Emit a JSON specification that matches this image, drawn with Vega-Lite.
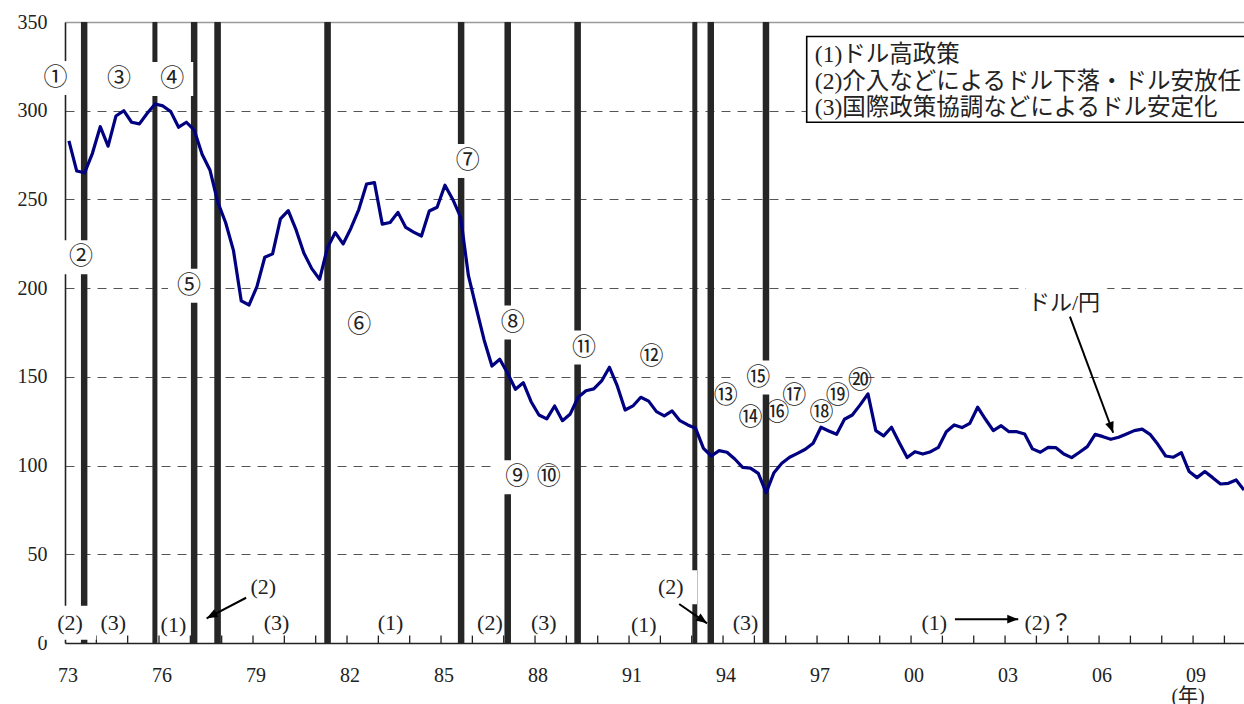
{
  "$schema": "https://vega.github.io/schema/vega-lite/v6.json",
  "width": 1179,
  "height": 621,
  "autosize": {"type": "none"},
  "padding": {"left": 65, "top": 22, "right": 0, "bottom": 61},
  "background": "white",
  "config": {"view": {"stroke": null}},
  "datasets": {
    "series": [
      {"t":1973.125,"v":283},{"t":1973.375,"v":266},{"t":1973.625,"v":265},{"t":1973.875,"v":276},
      {"t":1974.125,"v":291},{"t":1974.375,"v":280},{"t":1974.625,"v":297},{"t":1974.875,"v":300},
      {"t":1975.125,"v":293.5},{"t":1975.375,"v":292.6},{"t":1975.625,"v":298.6},{"t":1975.875,"v":303.8},
      {"t":1976.125,"v":302.7},{"t":1976.375,"v":299.5},{"t":1976.625,"v":290.7},{"t":1976.875,"v":293.5},
      {"t":1977.125,"v":289},{"t":1977.375,"v":275.5},{"t":1977.625,"v":266.6},{"t":1977.875,"v":248.5},
      {"t":1978.125,"v":237},{"t":1978.375,"v":221.3},{"t":1978.625,"v":192.8},{"t":1978.875,"v":190.5},
      {"t":1979.125,"v":200.9},{"t":1979.375,"v":217.4},{"t":1979.625,"v":219.3},{"t":1979.875,"v":239},
      {"t":1980.125,"v":243.7},{"t":1980.375,"v":232.8},{"t":1980.625,"v":219.7},{"t":1980.875,"v":211},
      {"t":1981.125,"v":205},{"t":1981.375,"v":222.8},{"t":1981.625,"v":231.3},{"t":1981.875,"v":224.9},
      {"t":1982.125,"v":233.8},{"t":1982.375,"v":244.3},{"t":1982.625,"v":258.7},{"t":1982.875,"v":259.5},
      {"t":1983.125,"v":236.1},{"t":1983.375,"v":237},{"t":1983.625,"v":242.7},{"t":1983.875,"v":234.2},
      {"t":1984.125,"v":231.6},{"t":1984.375,"v":229.4},{"t":1984.625,"v":243.5},{"t":1984.875,"v":245.6},
      {"t":1985.125,"v":258},{"t":1985.375,"v":250},{"t":1985.625,"v":240},{"t":1985.875,"v":207},
      {"t":1986.125,"v":188.7},{"t":1986.375,"v":170.8},{"t":1986.625,"v":156.1},{"t":1986.875,"v":159.9},
      {"t":1987.125,"v":152},{"t":1987.375,"v":143},{"t":1987.625,"v":146.7},{"t":1987.875,"v":136},
      {"t":1988.125,"v":128.5},{"t":1988.375,"v":126.3},{"t":1988.625,"v":133.6},{"t":1988.875,"v":125.3},
      {"t":1989.125,"v":129.1},{"t":1989.375,"v":138.5},{"t":1989.625,"v":142.2},{"t":1989.875,"v":143.2},
      {"t":1990.125,"v":147.7},{"t":1990.375,"v":155.4},{"t":1990.625,"v":144.9},{"t":1990.875,"v":131.3},
      {"t":1991.125,"v":133.6},{"t":1991.375,"v":138.5},{"t":1991.625,"v":136.3},{"t":1991.875,"v":130.4},
      {"t":1992.125,"v":128},{"t":1992.375,"v":130.8},{"t":1992.625,"v":125.3},{"t":1992.875,"v":122.9},
      {"t":1993.125,"v":121},{"t":1993.375,"v":109.7},{"t":1993.625,"v":105.4},{"t":1993.875,"v":108.4},
      {"t":1994.125,"v":107.5},{"t":1994.375,"v":103.7},{"t":1994.625,"v":99},{"t":1994.875,"v":98.6},
      {"t":1995.125,"v":95.6},{"t":1995.375,"v":84.7},{"t":1995.625,"v":96},{"t":1995.875,"v":101.3},
      {"t":1996.125,"v":104.7},{"t":1996.375,"v":106.9},{"t":1996.625,"v":109.2},{"t":1996.875,"v":112.6},
      {"t":1997.125,"v":121.6},{"t":1997.375,"v":119.5},{"t":1997.625,"v":117.6},{"t":1997.875,"v":126.1},
      {"t":1998.125,"v":128.5},{"t":1998.375,"v":134.2},{"t":1998.625,"v":140.4},{"t":1998.875,"v":119.7},
      {"t":1999.125,"v":116.7},{"t":1999.375,"v":121.6},{"t":1999.625,"v":112.9},{"t":1999.875,"v":104.5},
      {"t":2000.125,"v":107.8},{"t":2000.375,"v":106.5},{"t":2000.625,"v":107.8},{"t":2000.875,"v":110.3},
      {"t":2001.125,"v":119.1},{"t":2001.375,"v":122.9},{"t":2001.625,"v":121.4},{"t":2001.875,"v":123.8},
      {"t":2002.125,"v":132.9},{"t":2002.375,"v":126.1},{"t":2002.625,"v":119.7},{"t":2002.875,"v":122.5},
      {"t":2003.125,"v":119.1},{"t":2003.375,"v":119.1},{"t":2003.625,"v":117.8},{"t":2003.875,"v":109.4},
      {"t":2004.125,"v":107.5},{"t":2004.375,"v":110.3},{"t":2004.625,"v":110.1},{"t":2004.875,"v":106.5},
      {"t":2005.125,"v":104.5},{"t":2005.375,"v":107.5},{"t":2005.625,"v":110.7},{"t":2005.875,"v":117.6},
      {"t":2006.125,"v":116.3},{"t":2006.375,"v":114.8},{"t":2006.625,"v":116},{"t":2006.875,"v":117.8},
      {"t":2007.125,"v":119.7},{"t":2007.375,"v":120.5},{"t":2007.625,"v":117.6},{"t":2007.875,"v":112},
      {"t":2008.125,"v":105.4},{"t":2008.375,"v":104.7},{"t":2008.625,"v":107.3},{"t":2008.875,"v":96.6},
      {"t":2009.125,"v":93.2},{"t":2009.375,"v":96.6},{"t":2009.625,"v":93.2},{"t":2009.875,"v":89.6},
      {"t":2010.125,"v":90},{"t":2010.375,"v":91.9},{"t":2010.625,"v":86.2}
    ],
    "years": [
      {"t":1974},{"t":1975},{"t":1976},{"t":1977},{"t":1978},{"t":1979},{"t":1980},{"t":1981},{"t":1982},
      {"t":1983},{"t":1984},{"t":1985},{"t":1986},{"t":1987},{"t":1988},{"t":1989},{"t":1990},{"t":1991},
      {"t":1992},{"t":1993},{"t":1994},{"t":1995},{"t":1996},{"t":1997},{"t":1998},{"t":1999},{"t":2000},
      {"t":2001},{"t":2002},{"t":2003},{"t":2004},{"t":2005},{"t":2006},{"t":2007},{"t":2008},{"t":2009},
      {"t":2010}
    ],
    "yearLabels": [
      {"t":1973,"label":"73"},{"t":1976,"label":"76"},{"t":1979,"label":"79"},{"t":1982,"label":"82"},
      {"t":1985,"label":"85"},{"t":1988,"label":"88"},{"t":1991,"label":"91"},{"t":1994,"label":"94"},
      {"t":1997,"label":"97"},{"t":2000,"label":"00"},{"t":2003,"label":"03"},{"t":2006,"label":"06"},
      {"t":2009,"label":"09"}
    ],
    "bars": [
      {"t":1973.61,"kind":"thick"},{"t":1975.87,"kind":"thin"},{"t":1977.12,"kind":"thick"},
      {"t":1977.87,"kind":"thick"},{"t":1981.38,"kind":"thick"},{"t":1985.64,"kind":"thick"},
      {"t":1987.13,"kind":"thick"},{"t":1989.36,"kind":"thick"},{"t":1993.10,"kind":"thin"},
      {"t":1993.61,"kind":"thick"},{"t":1995.37,"kind":"thick"}
    ],
    "circledBoxed": [
      {"label":"①","t":1972.70,"v":318.5},{"label":"②","t":1973.51,"v":217.4},
      {"label":"④","t":1976.42,"v":317.9},{"label":"⑤","t":1976.96,"v":201.4},
      {"label":"⑦","t":1985.85,"v":271.7},{"label":"⑧","t":1987.29,"v":180.6},
      {"label":"⑨","t":1987.43,"v":93.4},{"label":"⑪","t":1989.56,"v":166.5},
      {"label":"⑮","t":1995.12,"v":149.6}
    ],
    "circled": [
      {"label":"③","t":1974.72,"v":317.9},{"label":"⑥","t":1982.39,"v":179.3},
      {"label":"⑩","t":1988.44,"v":93.4},{"label":"⑫","t":1991.72,"v":161},
      {"label":"⑬","t":1994.09,"v":139.4},{"label":"⑭","t":1994.88,"v":127},
      {"label":"⑯","t":1995.73,"v":129.8},{"label":"⑰","t":1996.27,"v":139.4},
      {"label":"⑱","t":1997.14,"v":129.8},{"label":"⑲","t":1997.66,"v":139.4},
      {"label":"⑳","t":1998.37,"v":147.9}
    ],
    "parenBoxed": [
      {"label":"(2)","t":1973.16,"v":11.4},{"label":"(2)","t":1992.33,"v":31.4}
    ],
    "paren": [
      {"label":"(3)","t":1974.54,"v":11.4},{"label":"(1)","t":1976.46,"v":10.1},
      {"label":"(2)","t":1979.33,"v":31.4},{"label":"(3)","t":1979.75,"v":11.4},
      {"label":"(1)","t":1983.39,"v":11.4},{"label":"(2)","t":1986.56,"v":11.4},
      {"label":"(3)","t":1988.28,"v":11.4},{"label":"(1)","t":1991.47,"v":10.1},
      {"label":"(3)","t":1994.72,"v":11.4},{"label":"(1)","t":2000.74,"v":11.4},
      {"label":"(2)？","t":2004.38,"v":11.4}
    ],
    "arrows": [
      {"id":"a1","t1":1978.78,"v1":25.5,"t2":1977.52,"v2":13.9},
      {"id":"a2","t1":1992.60,"v1":22.0,"t2":1993.49,"v2":11.1},
      {"id":"a3","t1":2005.07,"v1":183.9,"t2":2006.45,"v2":118.5},
      {"id":"a4","t1":2001.40,"v1":13.4,"t2":2003.42,"v2":13.4}
    ],
    "legendBox": [{"t1":1996.67,"t2":2011,"v1":341.8,"v2":293.5}],
    "legendText": [
      {"label":"(1)ドル高政策","t":1996.93,"v":331.5},
      {"label":"(2)介入などによるドル下落・ドル安放任","t":1996.93,"v":316.2},
      {"label":"(3)国際政策協調などによるドル安定化","t":1996.93,"v":301.3}
    ],
    "notes": [{"label":"ドル/円","t":2004.88,"v":191.7}],
    "unit": [{"label":"(年)","t":2008.84,"v":-30.3}]
  },
  "layer": [
    {
      "data": {"name": "bars"},
      "mark": {"type": "rule", "color": "#6a6a6a"},
      "encoding": {
        "x": {"field": "t", "type": "quantitative", "title": null,
          "scale": {"domain": [1973, 2010.625], "nice": false, "zero": false},
          "axis": {"title": null, "zindex": 0, "grid": false, "labels": false, "ticks": false,
            "domainColor": "#222222", "domainWidth": 1.6}},
        "size": {"field": "kind", "type": "ordinal", "scale": {"domain": ["thick", "thin"], "range": [6.3, 4.7]}, "legend": null}
      }
    },
    {
      "data": {"name": "series"},
      "mark": {"type": "line", "opacity": 0},
      "encoding": {
        "x": {"field": "t", "type": "quantitative", "title": null, "scale": {"domain": [1973, 2010.625], "nice": false, "zero": false}},
        "y": {"field": "v", "type": "quantitative", "title": null,
          "scale": {"domain": [0, 350], "nice": false, "zero": false},
          "axis": {"title": null, "zindex": 0,
            "values": [0,50,100,150,200,250,300,350],
            "grid": true,
            "gridColor": {"condition": {"test": "datum.value == 350", "value": "#9a9a9a"}, "value": "#555555"},
            "gridDash": {"condition": {"test": "datum.value == 350", "value": []}, "value": [9, 7]},
            "gridWidth": {"condition": {"test": "datum.value == 350", "value": 1.6}, "value": 1},
            "gridOpacity": {"condition": {"test": "datum.value == 0", "value": 0}, "value": 1},
            "domainColor": "#222222", "domainWidth": 1.6, "ticks": false,
            "labelPadding": 18, "labelDy": 2, "labelFont": "Liberation Serif", "labelFontSize": 20,
            "labelColor": "#222222"}}
      }
    },
    {
      "data": {"name": "years"},
      "mark": {"type": "rule", "color": "#222222", "strokeWidth": 1.3},
      "encoding": {
        "x": {"field": "t", "type": "quantitative", "title": null, "scale": {"domain": [1973, 2010.625], "nice": false, "zero": false}},
        "y": {"datum": 0, "type": "quantitative", "scale": {"domain": [0, 350], "nice": false, "zero": false}},
        "y2": {"datum": 4.2}
      }
    },
    {
      "data": {"name": "yearLabels"},
      "mark": {"type": "text", "font": "Liberation Serif", "fontSize": 20, "align": "center", "baseline": "middle", "dx": 3, "color": "#222222"},
      "encoding": {
        "x": {"field": "t", "type": "quantitative", "title": null, "scale": {"domain": [1973, 2010.625], "nice": false, "zero": false}},
        "y": {"datum": -18.5, "type": "quantitative", "scale": {"domain": [0, 350], "nice": false, "zero": false}},
        "text": {"field": "label"}
      }
    },
    {
      "data": {"name": "bars"},
      "mark": {"type": "rule", "color": "#262626"},
      "encoding": {
        "x": {"field": "t", "type": "quantitative", "title": null, "scale": {"domain": [1973, 2010.625], "nice": false, "zero": false}},
        "size": {"field": "kind", "type": "ordinal", "scale": {"domain": ["thick", "thin"], "range": [4.3, 2.9]}, "legend": null}
      }
    },
    {
      "data": {"name": "legendBox"},
      "mark": {"type": "rect", "fill": "white", "stroke": "black", "strokeWidth": 1.6, "clip": true},
      "encoding": {
        "x": {"field": "t1", "type": "quantitative", "title": null, "scale": {"domain": [1973, 2010.625], "nice": false, "zero": false}},
        "x2": {"field": "t2"},
        "y": {"field": "v1", "type": "quantitative", "title": null, "scale": {"domain": [0, 350], "nice": false, "zero": false}},
        "y2": {"field": "v2"}
      }
    },
    {
      "data": {"name": "circledBoxed"},
      "mark": {"type": "point", "shape": "M-1.24,-1H1.24V1H-1.24Z", "size": 1156, "filled": true, "color": "white", "opacity": 1, "strokeWidth": 0},
      "encoding": {
        "x": {"field": "t", "type": "quantitative", "title": null, "scale": {"domain": [1973, 2010.625], "nice": false, "zero": false}},
        "y": {"field": "v", "type": "quantitative", "title": null, "scale": {"domain": [0, 350], "nice": false, "zero": false}}
      }
    },
    {
      "data": {"name": "parenBoxed"},
      "mark": {"type": "point", "shape": "M-1.55,-1H1.55V1H-1.55Z", "size": 1156, "filled": true, "color": "white", "opacity": 1, "strokeWidth": 0},
      "encoding": {
        "x": {"field": "t", "type": "quantitative", "title": null, "scale": {"domain": [1973, 2010.625], "nice": false, "zero": false}},
        "y": {"field": "v", "type": "quantitative", "title": null, "scale": {"domain": [0, 350], "nice": false, "zero": false}}
      }
    },
    {
      "data": {"name": "notes"},
      "mark": {"type": "text", "font": "Liberation Serif, Noto Sans CJK JP", "fontSize": 22, "align": "center", "baseline": "middle", "fill": "white", "stroke": "white", "strokeWidth": 20, "strokeJoin": "round"},
      "encoding": {
        "x": {"field": "t", "type": "quantitative", "title": null, "scale": {"domain": [1973, 2010.625], "nice": false, "zero": false}},
        "y": {"field": "v", "type": "quantitative", "title": null, "scale": {"domain": [0, 350], "nice": false, "zero": false}},
        "text": {"field": "label"}
      }
    },
    {
      "data": {"name": "series"},
      "mark": {"type": "line", "color": "#000080", "strokeWidth": 3.2, "strokeJoin": "round", "clip": true},
      "encoding": {
        "x": {"field": "t", "type": "quantitative", "title": null, "scale": {"domain": [1973, 2010.625], "nice": false, "zero": false}},
        "y": {"field": "v", "type": "quantitative", "title": null, "scale": {"domain": [0, 350], "nice": false, "zero": false}}
      }
    },
    {
      "data": {"name": "arrows"},
      "mark": {"type": "rule", "color": "black", "strokeWidth": 2},
      "encoding": {
        "x": {"field": "t1", "type": "quantitative", "title": null, "scale": {"domain": [1973, 2010.625], "nice": false, "zero": false}},
        "x2": {"field": "t2"},
        "y": {"field": "v1", "type": "quantitative", "title": null, "scale": {"domain": [0, 350], "nice": false, "zero": false}},
        "y2": {"field": "v2"}
      }
    },
    {
      "data": {"name": "arrows"},
      "transform": [{"filter": "datum.id == 'a1'"}],
      "mark": {"type": "point", "shape": "M0,0L0.8,2L-0.8,2Z", "size": 121, "filled": true, "color": "black", "opacity": 1, "strokeWidth": 0, "angle": 242},
      "encoding": {
        "x": {"field": "t2", "type": "quantitative", "title": null, "scale": {"domain": [1973, 2010.625], "nice": false, "zero": false}},
        "y": {"field": "v2", "type": "quantitative", "title": null, "scale": {"domain": [0, 350], "nice": false, "zero": false}}
      }
    },
    {
      "data": {"name": "arrows"},
      "transform": [{"filter": "datum.id == 'a2'"}],
      "mark": {"type": "point", "shape": "M0,0L0.8,2L-0.8,2Z", "size": 121, "filled": true, "color": "black", "opacity": 1, "strokeWidth": 0, "angle": 125},
      "encoding": {
        "x": {"field": "t2", "type": "quantitative", "title": null, "scale": {"domain": [1973, 2010.625], "nice": false, "zero": false}},
        "y": {"field": "v2", "type": "quantitative", "title": null, "scale": {"domain": [0, 350], "nice": false, "zero": false}}
      }
    },
    {
      "data": {"name": "arrows"},
      "transform": [{"filter": "datum.id == 'a3'"}],
      "mark": {"type": "point", "shape": "M0,0L0.8,2L-0.8,2Z", "size": 121, "filled": true, "color": "black", "opacity": 1, "strokeWidth": 0, "angle": 160},
      "encoding": {
        "x": {"field": "t2", "type": "quantitative", "title": null, "scale": {"domain": [1973, 2010.625], "nice": false, "zero": false}},
        "y": {"field": "v2", "type": "quantitative", "title": null, "scale": {"domain": [0, 350], "nice": false, "zero": false}}
      }
    },
    {
      "data": {"name": "arrows"},
      "transform": [{"filter": "datum.id == 'a4'"}],
      "mark": {"type": "point", "shape": "M0,0L0.8,2L-0.8,2Z", "size": 121, "filled": true, "color": "black", "opacity": 1, "strokeWidth": 0, "angle": 90},
      "encoding": {
        "x": {"field": "t2", "type": "quantitative", "title": null, "scale": {"domain": [1973, 2010.625], "nice": false, "zero": false}},
        "y": {"field": "v2", "type": "quantitative", "title": null, "scale": {"domain": [0, 350], "nice": false, "zero": false}}
      }
    },
    {
      "data": {"name": "circledBoxed"},
      "mark": {"type": "text", "font": "Noto Sans CJK JP", "fontSize": 24, "align": "center", "baseline": "middle", "color": "#222222"},
      "encoding": {
        "x": {"field": "t", "type": "quantitative", "title": null, "scale": {"domain": [1973, 2010.625], "nice": false, "zero": false}},
        "y": {"field": "v", "type": "quantitative", "title": null, "scale": {"domain": [0, 350], "nice": false, "zero": false}},
        "text": {"field": "label"}
      }
    },
    {
      "data": {"name": "circled"},
      "mark": {"type": "text", "font": "Noto Sans CJK JP", "fontSize": 24, "align": "center", "baseline": "middle", "color": "#222222"},
      "encoding": {
        "x": {"field": "t", "type": "quantitative", "title": null, "scale": {"domain": [1973, 2010.625], "nice": false, "zero": false}},
        "y": {"field": "v", "type": "quantitative", "title": null, "scale": {"domain": [0, 350], "nice": false, "zero": false}},
        "text": {"field": "label"}
      }
    },
    {
      "data": {"name": "parenBoxed"},
      "mark": {"type": "text", "font": "Liberation Serif, Noto Sans CJK JP", "fontSize": 22, "align": "center", "baseline": "middle", "color": "#222222"},
      "encoding": {
        "x": {"field": "t", "type": "quantitative", "title": null, "scale": {"domain": [1973, 2010.625], "nice": false, "zero": false}},
        "y": {"field": "v", "type": "quantitative", "title": null, "scale": {"domain": [0, 350], "nice": false, "zero": false}},
        "text": {"field": "label"}
      }
    },
    {
      "data": {"name": "paren"},
      "mark": {"type": "text", "font": "Liberation Serif, Noto Sans CJK JP", "fontSize": 22, "align": "center", "baseline": "middle", "color": "#222222"},
      "encoding": {
        "x": {"field": "t", "type": "quantitative", "title": null, "scale": {"domain": [1973, 2010.625], "nice": false, "zero": false}},
        "y": {"field": "v", "type": "quantitative", "title": null, "scale": {"domain": [0, 350], "nice": false, "zero": false}},
        "text": {"field": "label"}
      }
    },
    {
      "data": {"name": "legendText"},
      "mark": {"type": "text", "font": "Liberation Serif, Noto Sans CJK JP", "fontSize": 23.5, "align": "left", "baseline": "middle", "color": "#222222"},
      "encoding": {
        "x": {"field": "t", "type": "quantitative", "title": null, "scale": {"domain": [1973, 2010.625], "nice": false, "zero": false}},
        "y": {"field": "v", "type": "quantitative", "title": null, "scale": {"domain": [0, 350], "nice": false, "zero": false}},
        "text": {"field": "label"}
      }
    },
    {
      "data": {"name": "notes"},
      "mark": {"type": "text", "font": "Liberation Serif, Noto Sans CJK JP", "fontSize": 22, "align": "center", "baseline": "middle", "color": "#222222"},
      "encoding": {
        "x": {"field": "t", "type": "quantitative", "title": null, "scale": {"domain": [1973, 2010.625], "nice": false, "zero": false}},
        "y": {"field": "v", "type": "quantitative", "title": null, "scale": {"domain": [0, 350], "nice": false, "zero": false}},
        "text": {"field": "label"}
      }
    },
    {
      "data": {"name": "unit"},
      "mark": {"type": "text", "font": "Liberation Serif, Noto Sans CJK JP", "fontSize": 20, "align": "center", "baseline": "middle", "color": "#222222"},
      "encoding": {
        "x": {"field": "t", "type": "quantitative", "title": null, "scale": {"domain": [1973, 2010.625], "nice": false, "zero": false}},
        "y": {"field": "v", "type": "quantitative", "title": null, "scale": {"domain": [0, 350], "nice": false, "zero": false}},
        "text": {"field": "label"}
      }
    }
  ]
}
